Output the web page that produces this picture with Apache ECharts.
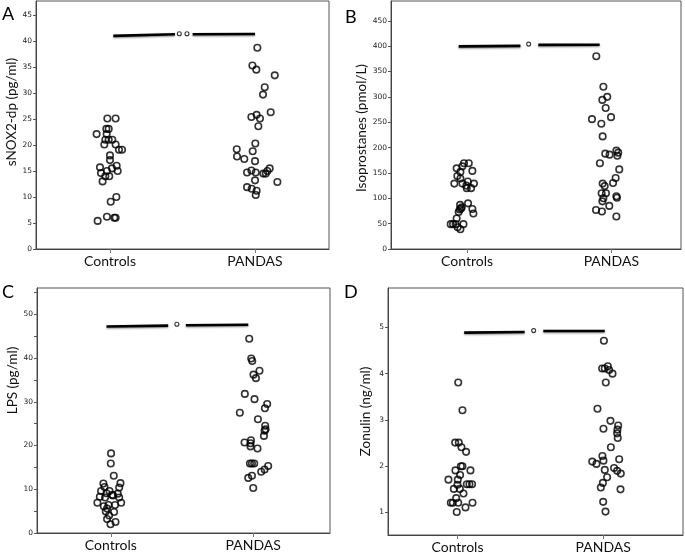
<!DOCTYPE html>
<html>
<head>
<meta charset="utf-8">
<script src="https://cdn.jsdelivr.net/npm/echarts@6.0.0/dist/echarts.min.js"></script>
<style>
  html, body { margin: 0; padding: 0; background: #fff; }
  #chart { width: 685px; height: 554px; }
</style>
</head>
<body>
<div id="chart"></div>
<script>
// x: 1 = Controls, 2 = PANDAS (jitter)
const categories = ["Controls", "PANDAS"]

const nox2Controls = [
  [0.982, 25.1], [1.039, 25.1], [0.908, 22.1], [0.975, 23.1], [0.991, 23.1], [0.977, 22.1],
  [0.968, 21.0], [0.991, 21.0], [1.016, 21.0], [0.961, 20.1], [1.039, 20.1], [1.062, 19.1],
  [1.083, 19.1], [1.0, 18.0], [1.0, 17.1], [0.931, 15.7], [0.938, 14.6], [0.979, 15.0],
  [1.014, 15.5], [1.046, 16.0], [1.053, 15.0], [0.968, 14.0], [0.995, 14.0], [0.949, 13.0],
  [1.005, 9.1], [1.044, 10.0], [0.915, 5.4], [0.979, 6.2], [1.030, 6.0], [1.039, 6.0],
]
const nox2Pandas = [
  [2.016, 38.7], [1.982, 35.3], [2.009, 34.5], [2.136, 33.4], [2.067, 31.1], [2.055, 29.7],
  [2.108, 26.3], [1.975, 25.4], [2.011, 25.8], [2.034, 25.1], [2.023, 23.6], [2.002, 20.3],
  [1.874, 19.2], [1.876, 17.8], [1.926, 17.3], [1.984, 18.8], [2.0, 16.9], [1.945, 14.7],
  [1.975, 15.1], [2.005, 14.7], [2.0, 13.2], [2.057, 14.5], [2.074, 14.5], [2.085, 15.0],
  [2.101, 15.5], [2.154, 12.9], [1.945, 11.9], [1.977, 11.6], [2.011, 11.2], [2.005, 10.4],
]
const isoControls = [
  [0.979, 169], [1.012, 169], [0.928, 159], [0.968, 163], [0.954, 152], [0.933, 144],
  [0.954, 139], [1.037, 154], [0.912, 129], [0.968, 129], [1.005, 133], [0.995, 125],
  [0.998, 120], [1.028, 120], [1.048, 129], [0.952, 87], [0.949, 78], [0.958, 80],
  [0.942, 73], [1.007, 90], [1.037, 79], [1.044, 70], [0.928, 60], [0.887, 49],
  [0.903, 49], [0.921, 49], [0.935, 43], [0.954, 39], [0.975, 49], [0.963, 82],
]
const isoPandas = [
  [1.896, 380], [1.945, 320], [1.972, 300], [1.938, 294], [1.961, 278], [1.998, 260],
  [1.866, 256], [1.931, 247], [1.940, 222], [1.958, 188], [1.988, 186], [2.035, 194],
  [2.048, 190], [2.042, 184], [1.921, 169], [2.055, 157], [2.030, 140], [2.012, 130],
  [1.940, 129], [1.954, 124], [1.933, 110], [1.963, 110], [1.945, 100], [1.938, 94],
  [2.035, 104], [2.039, 101], [1.894, 77], [1.935, 74], [1.986, 85], [2.035, 64],
]
const lpsControls = [
  [1.002, 18.2], [1.0, 15.9], [1.021, 13.1], [0.948, 11.3], [1.068, 11.4], [0.956, 10.5],
  [1.059, 10.4], [0.932, 9.6], [0.991, 9.6], [0.970, 9.1], [1.009, 8.7], [1.049, 9.0],
  [0.923, 8.3], [0.960, 8.1], [1.016, 8.6], [1.059, 8.1], [0.906, 6.9], [1.073, 6.9],
  [0.951, 6.1], [0.984, 6.4], [1.030, 6.4], [0.974, 5.6], [0.965, 4.9], [1.023, 4.8],
  [0.988, 4.0], [0.974, 3.2], [1.033, 2.5], [0.998, 2.0],
]
const lpsPandas = [
  [1.972, 44.4], [1.986, 39.9], [1.993, 39.3], [2.002, 36.2], [2.044, 37.1], [2.019, 35.4],
  [1.941, 31.8], [2.009, 30.6], [1.906, 27.5], [2.098, 29.5], [2.082, 28.5], [2.033, 26.0],
  [2.084, 24.5], [2.087, 23.7], [2.080, 23.4], [2.075, 22.2], [1.984, 21.2], [1.981, 20.5],
  [1.981, 19.8], [1.939, 20.7], [2.030, 19.3], [1.977, 15.9], [1.991, 15.9], [2.007, 15.9],
  [2.105, 15.3], [2.080, 14.5], [2.056, 14.0], [1.991, 13.1], [1.965, 12.6], [2.0, 10.3],
]
const zonControls = [
  [1.005, 3.81], [1.034, 3.21], [0.984, 2.51], [1.009, 2.51], [1.027, 2.41], [1.059, 2.31],
  [1.023, 2.0], [1.034, 2.0], [0.986, 1.91], [1.089, 1.91], [1.018, 1.81], [0.938, 1.71],
  [1.002, 1.71], [1.0, 1.60], [0.975, 1.51], [1.016, 1.51], [1.064, 1.61], [1.082, 1.61],
  [1.100, 1.61], [1.041, 1.41], [0.991, 1.31], [0.954, 1.21], [0.968, 1.21], [1.005, 1.21],
  [1.103, 1.21], [1.055, 1.11], [0.995, 1.01],
]
const zonPandas = [
  [2.005, 4.71], [1.993, 4.11], [2.011, 4.11], [2.032, 4.16], [2.041, 4.08], [2.064, 4.0],
  [2.018, 3.81], [1.961, 3.24], [2.050, 2.98], [2.002, 2.81], [2.103, 2.88], [2.098, 2.79],
  [2.096, 2.71], [2.100, 2.61], [2.053, 2.41], [1.995, 2.22], [1.925, 2.10], [1.954, 2.05],
  [2.002, 2.12], [2.110, 2.15], [2.075, 1.96], [2.096, 1.90], [2.121, 1.84], [2.011, 1.92],
  [2.027, 1.76], [1.998, 1.64], [1.984, 1.54], [2.119, 1.50], [2.0, 1.23], [2.016, 1.02],
]

// significance bars: left segment, right segment, marker dots
const nox2SigLeft = [[1.023, 41.0], [1.448, 41.3]]
const nox2SigRight = [[1.57, 41.3], [2.0, 41.35]]
const nox2SigDots = [[1.478, 41.4], [1.531, 41.4]]
const isoSigLeft = [[0.942, 399.5], [1.37, 400.5]]
const isoSigRight = [[1.494, 402.5], [1.919, 402.8]]
const isoSigDots = [[1.427, 404]]
const lpsSigLeft = [[0.97, 47.2], [1.403, 47.4]]
const lpsSigRight = [[1.527, 47.5], [1.965, 47.6]]
const lpsSigDots = [[1.464, 47.7]]
const zonSigLeft = [[1.046, 4.886], [1.461, 4.9]]
const zonSigRight = [[1.589, 4.92], [2.011, 4.92]]
const zonSigDots = [[1.523, 4.93]]

const nox2Ticks = [0, 5, 10, 15, 20, 25, 30, 35, 40, 45]
const isoTicks = [0, 50, 100, 150, 200, 250, 300, 350, 400, 450]
const lpsTicks = [0, 10, 20, 30, 40, 50]
const lpsMinorTicks = [0, 5, 10, 15, 20, 25, 30, 35, 40, 45, 50, 55]
const zonTicks = [1, 2, 3, 4, 5]

const panels = [
	{
		letter: "A", yName: "sNOX2-dp (pg/ml)", ctrl: nox2Controls, pan: nox2Pandas,
		sigL: nox2SigLeft, sigR: nox2SigRight, dots: nox2SigDots, labels: nox2Ticks, ticks: nox2Ticks,
		grid: { left: 36, top: 1, width: 293, height: 248 }, xMin: 0.49, xMax: 2.51, yMin: 0, yMax: 47.7,
		nameGap: 17, namePad: [0, 0, 0, 26], letterPos: { left: 2, top: 5 },
	},
	{
		letter: "B", yName: "Isoprostanes (pmol/L)", ctrl: isoControls, pan: isoPandas,
		sigL: isoSigLeft, sigR: isoSigRight, dots: isoSigDots, labels: isoTicks, ticks: isoTicks,
		grid: { left: 391, top: 1, width: 290, height: 248 }, xMin: 0.473, xMax: 2.483, yMin: 0, yMax: 489,
		nameGap: 19, namePad: [0, 6, 0, 0], letterPos: { left: 345, top: 8 },
	},
	{
		letter: "C", yName: "LPS (pg/ml)", ctrl: lpsControls, pan: lpsPandas,
		sigL: lpsSigLeft, sigR: lpsSigRight, dots: lpsSigDots, labels: lpsTicks, ticks: lpsMinorTicks,
		grid: { left: 37, top: 288, width: 293, height: 245 }, xMin: 0.482, xMax: 2.539, yMin: 0, yMax: 56,
		nameGap: 15, namePad: [0, 0, 0, 60], letterPos: { left: 2, top: 283 },
	},
	{
		letter: "D", yName: "Zonulin (ng/ml)", ctrl: zonControls, pan: zonPandas,
		sigL: zonSigLeft, sigR: zonSigRight, dots: zonSigDots, labels: zonTicks, ticks: zonTicks,
		grid: { left: 388, top: 288, width: 295, height: 249 }, xMin: 0.523, xMax: 2.548, yMin: 0.514, yMax: 5.85,
		nameGap: 15, namePad: [0, 0, 0, 0], letterPos: { left: 344, top: 283 },
	},
]

const font = "Lato, 'Open Sans', sans-serif"
const pointStyle = { color: "rgba(255,255,255,0)", borderColor: "#000", borderWidth: 1.6 }
const sigLine = {
	color: "#000", width: 2.6,
	shadowColor: "rgba(0,0,0,0.45)", shadowBlur: 2, shadowOffsetY: 1,
}

let option = {
	animation: false,
	backgroundColor: "#fff",
	title: [],
	grid: [],
	xAxis: [],
	yAxis: [],
	series: [],
}

panels.forEach((p, i) => {
	option.title.push({
		text: p.letter,
		left: p.letterPos.left,
		top: p.letterPos.top,
		padding: 0,
		textStyle: { fontFamily: font, fontSize: 18, fontWeight: "normal", color: "#000" },
	})
	option.grid.push(Object.assign({ show: true, borderColor: "#555", borderWidth: 1, backgroundColor: "transparent" }, p.grid))
	option.xAxis.push({
		type: "value",
		gridIndex: i,
		min: p.xMin,
		max: p.xMax,
		axisLine: { show: true, lineStyle: { color: "#444", width: 1 } },
		axisTick: { show: true, customValues: [1, 2], length: 4, lineStyle: { color: "#777" } },
		axisLabel: {
			customValues: [1, 2],
			formatter: (v) => categories[Math.round(v) - 1],
			fontFamily: font, fontSize: 14, color: "#111", margin: 5,
		},
		splitLine: { show: false },
	})
	option.yAxis.push({
		type: "value",
		gridIndex: i,
		min: p.yMin,
		max: p.yMax,
		name: p.yName,
		nameLocation: "middle",
		nameGap: p.nameGap,
		nameTextStyle: { fontFamily: font, fontSize: 13.5, color: "#111", padding: p.namePad },
		axisLine: { show: true, lineStyle: { color: "#444", width: 1 } },
		axisTick: { show: true, customValues: p.ticks, length: 3, lineStyle: { color: "#555" } },
		axisLabel: { customValues: p.labels, fontFamily: "'DejaVu Sans', sans-serif", fontSize: 7.5, color: "#222", margin: 4 },
		splitLine: { show: false },
	})
	const base = { xAxisIndex: i, yAxisIndex: i, silent: true }
	option.series.push(
		Object.assign({ type: "scatter", data: p.ctrl, symbol: "circle", symbolSize: 6.5, itemStyle: pointStyle }, base),
		Object.assign({ type: "scatter", data: p.pan, symbol: "circle", symbolSize: 6.5, itemStyle: pointStyle }, base),
		Object.assign({ type: "line", data: p.sigL, showSymbol: false, lineStyle: sigLine }, base),
		Object.assign({ type: "line", data: p.sigR, showSymbol: false, lineStyle: sigLine }, base),
		Object.assign({ type: "scatter", data: p.dots, symbol: "circle", symbolSize: 4,
			itemStyle: { color: "#fff", borderColor: "#000", borderWidth: 1.1 } }, base)
	)
})

let chart = echarts.init(document.getElementById("chart"))
chart.setOption(option)
</script>
</body>
</html>
